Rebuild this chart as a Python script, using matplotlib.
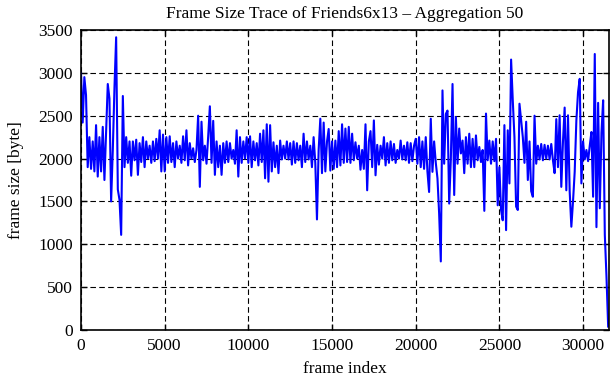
import numpy as np
import matplotlib
matplotlib.use('Agg')
import matplotlib.pyplot as plt

# aggregated frame sizes [byte], one value every 100 frames
size_0k = [3000, 2420, 2950, 2740, 1900, 2250, 1880, 2200, 1850, 2390,
           1790, 2250, 1850, 2370, 1750, 2300, 2870, 2700, 1500, 2100,
           2830, 3415, 1640, 1520, 1110, 2730, 1900, 2250, 1950, 2200,
           1800, 2200, 1980, 2220, 1810, 2180, 1960, 2250, 1900, 2200,
           2000, 2150, 1950, 2200, 1970, 2230, 2000, 2330, 1850, 2280]
size_5k = [1850, 2250, 1950, 2260, 1960, 2180, 1900, 2200, 2000, 2150,
           1950, 2260, 1980, 2330, 1920, 2180, 2000, 2120, 1960, 2100,
           2500, 1670, 2430, 1980, 2150, 1940, 2260, 2610, 1950, 2440,
           1810, 2200, 1900, 2150, 1810, 2180, 1950, 2200, 1960, 2180,
           2000, 2100, 1940, 2330, 1790, 2250, 1950, 2200, 2000, 2250]
size_10k = [1950, 2260, 1900, 2200, 1980, 2180, 1920, 2290, 1960, 2330,
            1770, 2400, 1730, 2390, 1850, 2190, 1900, 2150, 1830, 2210,
            1990, 2150, 2000, 2200, 1990, 2180, 1930, 2200, 1950, 2180,
            1980, 2150, 1900, 2290, 1960, 2200, 1990, 2150, 1900, 2250,
            1950, 1290, 2100, 2465, 1830, 2420, 1850, 2200, 2345, 1860]
size_15k = [2200, 1880, 2210, 1900, 2320, 1920, 2400, 1950, 2350, 1960,
            2370, 1950, 2290, 1980, 2190, 2000, 2150, 1870, 2100, 1880,
            2400, 1630, 2200, 2320, 1900, 2445, 1805, 2160, 1930, 2150,
            2000, 2250, 1920, 2180, 1950, 2200, 1980, 2170, 1950, 2100,
            2000, 2210, 1990, 2150, 1980, 2190, 1950, 2180, 1970, 2150]
size_20k = [2230, 1940, 2250, 1900, 2200, 1880, 2250, 1850, 1610, 2465,
            1845, 2200, 1950, 1770, 1360, 800, 2795, 1940, 2520, 2560,
            1475, 2000, 2870, 1575, 2485, 1940, 2350, 2060, 2210, 1830,
            2250, 1940, 2290, 1900, 2230, 1900, 2270, 1980, 2135, 1960,
            2100, 1390, 2525, 1980, 2210, 1940, 2200, 1970, 2230, 1455]
size_25k = [1900, 1400, 1280, 2390, 1165, 2330, 1710, 3155, 2680, 2250,
            1440, 1400, 2640, 2450, 2250, 1950, 2430, 1750, 2200, 1620,
            1555, 2500, 1940, 2150, 1990, 2170, 1980, 2160, 2000, 2150,
            1990, 2170, 1980, 1830, 2460, 1900, 2505, 1670, 2200, 2595,
            1630, 2505, 1620, 1205, 1500, 1845, 2445, 2775, 2930, 1710]
size_30k = [2200, 1990, 2100, 1970, 2150, 2310, 1555, 3220, 1200, 2650,
            1420, 2300, 2680, 1110, 620, 40]

sizes = np.array(size_0k + size_5k + size_10k + size_15k + size_20k + size_25k + size_30k)
frames = np.arange(len(sizes)) * 100

plt.rcParams['font.family'] = ['Liberation Serif', 'DejaVu Serif']
plt.rcParams['font.size'] = 12.5

fig = plt.figure(figsize=(6.11, 3.80), dpi=100)
ax = fig.add_axes([81 / 611, 50 / 380, 528 / 611, 300 / 380])

ax.plot(frames, sizes, '-', color='#0000ff', linewidth=1.5)

ax.set_xlim(0, 31550)
ax.set_ylim(0, 3500)
ax.set_xticks(np.arange(0, 31000, 5000))
ax.set_yticks(np.arange(0, 3501, 500))
ax.grid(True, color='black', linestyle=(0, (5, 3)), linewidth=0.8)
ax.tick_params(direction='in', top=True, right=True, length=4, width=1, pad=6)
for s in ax.spines.values():
    s.set_linewidth(1.2)

ax.set_title('Frame Size Trace of Friends6x13 – Aggregation 50', fontsize=12.5, pad=9)
ax.set_xlabel('frame index', labelpad=5)
ax.set_ylabel('frame size [byte]', labelpad=10)

fig.savefig('out.png', dpi=100)
